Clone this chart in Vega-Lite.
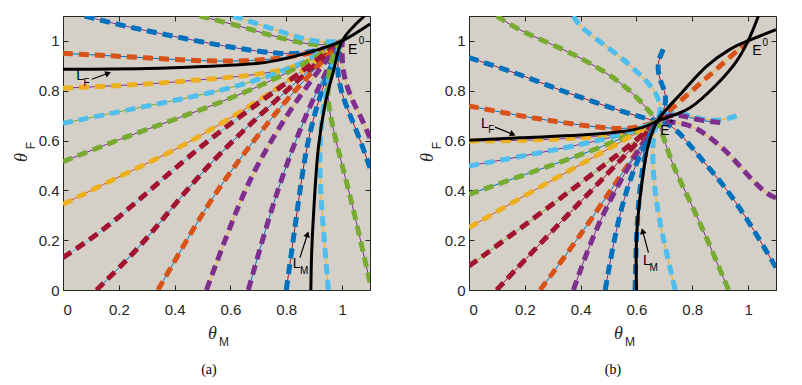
{
"$schema": "https://vega.github.io/schema/vega-lite/v6.json",
"padding": {"left": 12, "top": 15, "right": 5, "bottom": 5},
"bounds": "flush",
"spacing": 99,
"config": {
  "view": {"fill": "#d4d0c8", "stroke": "#262626", "strokeWidth": 1},
  "axis": {"labelFont": "Liberation Sans", "labelFontSize": 15, "labelColor": "#262626", "tickColor": "#262626", "grid": false, "title": null}
},
"datasets": {
  "traj": [
    {"p":"a","t":"a1","l":"purple","d":"blue","x":[0.078,0.17,0.3,0.54,0.7,0.82,0.92,1],"y":[1.1,1.073,1.04,0.986,0.957,0.945,0.96,1]},
    {"p":"a","t":"a2","l":"blue","d":"orange","x":[0,0.18,0.44,0.6,0.75,0.9,1],"y":[0.95,0.94,0.922,0.917,0.925,0.95,1]},
    {"p":"a","t":"a3","l":"purple","d":"yellow","x":[0,0.3,0.44,0.59,0.73,0.88,1],"y":[0.81,0.826,0.839,0.853,0.868,0.91,1]},
    {"p":"a","t":"a4","l":"green","d":"cyan","x":[0,0.3,0.6,0.85,1],"y":[0.669,0.739,0.805,0.9,1]},
    {"p":"a","t":"a5","l":"purple","d":"green","x":[0,0.2,0.42,0.65,0.85,1],"y":[0.515,0.605,0.692,0.79,0.895,1]},
    {"p":"a","t":"a6","l":"orange","d":"yellow","x":[0,0.23,0.42,0.6,0.8,1],"y":[0.344,0.471,0.571,0.69,0.83,1]},
    {"p":"a","t":"a7","l":"cyan","d":"red","x":[0,0.16,0.35,0.55,0.8,1],"y":[0.13,0.25,0.44,0.63,0.83,1]},
    {"p":"a","t":"a8","l":"blue","d":"red","x":[0.12,0.275,0.4,0.55,0.78,1],"y":[0,0.17,0.344,0.54,0.78,1]},
    {"p":"a","t":"a9","l":"blue","d":"orange","x":[0.34,0.4,0.49,0.59,0.8,1],"y":[0,0.116,0.29,0.464,0.77,1]},
    {"p":"a","t":"a10","l":"yellow","d":"purple","x":[0.514,0.61,0.69,0.85,1],"y":[0,0.29,0.5,0.79,1]},
    {"p":"a","t":"a11","l":"blue","d":"purple","x":[0.664,0.72,0.78,0.85,0.93,1],"y":[0,0.223,0.44,0.65,0.85,1]},
    {"p":"a","t":"a12","l":"red","d":"blue","x":[0.8,0.825,0.85,0.88,0.94,1],"y":[0,0.2,0.41,0.63,0.85,1]},
    {"p":"a","t":"a13","l":"yellow","d":"cyan","x":[0.951,0.927,0.918,0.925,0.96,1],"y":[0,0.317,0.5,0.7,0.9,1]},
    {"p":"a","t":"a14","l":"purple","d":"green","x":[1.1,1.04,1.0,0.967,0.945,0.955,1],"y":[0.03,0.33,0.5,0.65,0.77,0.93,1]},
    {"p":"a","t":"a15","l":"red","d":"blue","x":[1.1,1.058,1.011,0.975,1],"y":[0.49,0.625,0.745,0.88,1]},
    {"p":"a","t":"a16","l":"yellow","d":"purple","x":[1.1,1.07,1.034,1.0,1],"y":[0.61,0.69,0.765,0.87,1]},
    {"p":"a","t":"a18","l":"purple","d":"green","x":[0.49,0.634,0.78,0.92,1],"y":[1.1,1.06,1.01,0.975,1]},
    {"p":"a","t":"a19","l":"yellow","d":"cyan","x":[0.61,0.75,0.9,1],"y":[1.1,1.05,0.99,1]},
    {"p":"b","t":"b1","l":"purple","d":"green","x":[0.099,0.183,0.326,0.445,0.577,0.675],"y":[1.1,1.04,0.973,0.906,0.81,0.678]},
    {"p":"b","t":"b2","l":"yellow","d":"cyan","x":[0.374,0.398,0.517,0.601,0.67,0.69,0.675],"y":[1.1,1.053,0.96,0.879,0.8,0.73,0.678]},
    {"p":"b","t":"b3","l":"red","d":"blue","x":[0.696,0.672,0.684,0.709,0.7,0.675],"y":[0.966,0.906,0.839,0.785,0.72,0.678]},
    {"p":"b","t":"b4","l":"red","d":"blue","x":[0,0.183,0.302,0.422,0.541,0.637,0.675],"y":[0.933,0.866,0.812,0.765,0.719,0.687,0.678]},
    {"p":"b","t":"b4b","l":"red","d":"blue","x":[1.1,0.995,0.911,0.828,0.732,0.675],"y":[0.09,0.29,0.424,0.531,0.665,0.678]},
    {"p":"b","t":"b5","l":"blue","d":"orange","x":[0,0.183,0.302,0.422,0.541,0.62,0.675],"y":[0.739,0.699,0.678,0.658,0.645,0.655,0.678]},
    {"p":"b","t":"b6","l":"purple","d":"yellow","x":[0,0.2,0.4,0.55,0.63,0.675],"y":[0.598,0.6,0.61,0.625,0.65,0.678]},
    {"p":"b","t":"b7","l":"purple","d":"cyan","x":[0,0.23,0.47,0.6,0.675],"y":[0.498,0.545,0.6,0.64,0.678]},
    {"p":"b","t":"b8","l":"blue","d":"green","x":[0,0.23,0.47,0.62,0.675],"y":[0.384,0.475,0.57,0.645,0.678]},
    {"p":"b","t":"b9","l":"orange","d":"yellow","x":[0,0.2,0.41,0.6,0.675],"y":[0.25,0.38,0.51,0.63,0.678]},
    {"p":"b","t":"b10","l":"green","d":"red","x":[0,0.2,0.4,0.6,0.675],"y":[0.096,0.26,0.43,0.6,0.678]},
    {"p":"b","t":"b11","l":"red","d":"red","x":[0.099,0.3,0.5,0.675],"y":[0,0.24,0.47,0.678]},
    {"p":"b","t":"b12","l":"blue","d":"orange","x":[0.255,0.4,0.55,0.675],"y":[0,0.22,0.47,0.678]},
    {"p":"b","t":"b13","l":"purple","d":"purple","x":[0.374,0.45,0.56,0.675],"y":[0,0.24,0.48,0.678]},
    {"p":"b","t":"b14","l":"purple","d":"blue","x":[0.488,0.53,0.59,0.675],"y":[0,0.27,0.5,0.678]},
    {"p":"b","t":"b15","l":"blue","d":"blue","x":[0.595,0.6,0.615,0.64,0.675],"y":[0,0.25,0.45,0.6,0.678]},
    {"p":"b","t":"b16","l":"yellow","d":"cyan","x":[0.739,0.686,0.662,0.655,0.675],"y":[0,0.25,0.42,0.6,0.678]},
    {"p":"b","t":"b17","l":"purple","d":"green","x":[0.93,0.816,0.732,0.702,0.675],"y":[0,0.304,0.491,0.598,0.678]},
    {"p":"b","t":"b18","l":"yellow","d":"purple","x":[1.1,1.066,0.995,0.935,0.852,0.78,0.675],"y":[0.37,0.384,0.464,0.545,0.625,0.672,0.678]},
    {"p":"b","t":"b19","l":"yellow","d":"cyan","x":[0.959,0.899,0.828,0.78,0.72,0.675],"y":[0.699,0.678,0.685,0.705,0.72,0.678]},
    {"p":"b","t":"b21","l":"blue","d":"purple","x":[0.9,0.83,0.77,0.72,0.675],"y":[0.672,0.68,0.7,0.705,0.678]},
    {"p":"b","t":"b20","l":"yellow","d":"orange","x":[1,0.84,0.675],"y":[1,0.84,0.678]}
  ],
  "curves": [
    {"p":"a","c":"LF","x":[0,0.3,0.5,0.7,0.8,0.9,1,1.1],"y":[0.886,0.889,0.897,0.91,0.93,0.96,1,1.068]},
    {"p":"a","c":"LM","x":[0.888,0.891,0.897,0.915,0.939,0.969,1,1.08],"y":[0,0.15,0.29,0.571,0.745,0.879,1,1.1]},
    {"p":"b","c":"LF","x":[0,0.183,0.4,0.541,0.62,0.675,0.792,0.888,0.959,1,1.037],"y":[0.601,0.611,0.622,0.635,0.652,0.678,0.732,0.826,0.919,1,1.1]},
    {"p":"b","c":"LM","x":[0.6,0.601,0.619,0.643,0.675,0.768,0.852,0.935,1,1.1],"y":[0,0.224,0.424,0.585,0.678,0.799,0.899,0.966,1,1.045]}
  ],
  "arrows": [
    {"p":"a","a":"LF","x":[0.103,0.162],"y":[0.846,0.87]},
    {"p":"a","a":"LM","x":[0.849,0.876],"y":[0.13,0.224]},
    {"p":"b","a":"LF","x":[0.093,0.157],"y":[0.654,0.625]},
    {"p":"b","a":"LM","x":[0.643,0.622],"y":[0.15,0.237]}
  ],
  "notes": [
    {"p":"a","k":"lbl","txt":"L","x":0.061,"y":0.859},
    {"p":"a","k":"sub","txt":"F","x":0.084,"y":0.832},
    {"p":"a","k":"lbl","txt":"L","x":0.837,"y":0.103},
    {"p":"a","k":"sub","txt":"M","x":0.864,"y":0.075},
    {"p":"a","k":"lbl","txt":"E","x":1.038,"y":0.965},
    {"p":"a","k":"sub","txt":"0","x":1.07,"y":0.998},
    {"p":"b","k":"lbl","txt":"L","x":0.057,"y":0.665},
    {"p":"b","k":"sub","txt":"F","x":0.08,"y":0.643},
    {"p":"b","k":"lbl","txt":"L","x":0.637,"y":0.116},
    {"p":"b","k":"sub","txt":"M","x":0.662,"y":0.09},
    {"p":"b","k":"lbl","txt":"E","x":1.032,"y":0.958},
    {"p":"b","k":"sub","txt":"0","x":1.062,"y":0.99},
    {"p":"b","k":"lbl","txt":"E","x":0.702,"y":0.638},
    {"p":"b","k":"sub","txt":"*","x":0.725,"y":0.668},
    {"p":"a","k":"ax","txt":"θ","x":0.535,"y":-0.177},
    {"p":"a","k":"axs","txt":"M","x":0.577,"y":-0.207},
    {"p":"a","k":"yax","txt":"θ","x":-0.147,"y":0.532},
    {"p":"a","k":"yaxs","txt":"F","x":-0.115,"y":0.58},
    {"p":"a","k":"cap","txt":"(a)","x":0.523,"y":-0.321},
    {"p":"b","k":"ax","txt":"θ","x":0.535,"y":-0.177},
    {"p":"b","k":"axs","txt":"M","x":0.577,"y":-0.207},
    {"p":"b","k":"yax","txt":"θ","x":-0.147,"y":0.532},
    {"p":"b","k":"yaxs","txt":"F","x":-0.115,"y":0.58},
    {"p":"b","k":"cap","txt":"(b)","x":0.516,"y":-0.321}
  ]
},
"hconcat": [
{
  "width": 307, "height": 274,
  "resolve": {"axis": {"x": "independent", "y": "independent"}},
  "layer": [
    {"data": {"name": "traj"}, "transform": [{"filter": "datum.p==='a'"}, {"flatten": ["x", "y"]}],
     "mark": {"type": "line", "clip": true, "strokeWidth": 1, "interpolate": "basis"},
     "encoding": {
       "x": {"field": "x", "type": "quantitative", "scale": {"domain": [0, 1.1], "nice": false, "zero": false}, "axis": {"orient": "bottom", "values": [0, 0.2, 0.4, 0.6, 0.8, 1], "format": "~g", "tickSize": -5, "labelPadding": 17, "domain": false}},
       "y": {"field": "y", "type": "quantitative", "scale": {"domain": [0, 1.1], "nice": false, "zero": false}, "axis": {"orient": "left", "values": [0, 0.2, 0.4, 0.6, 0.8, 1], "format": "~g", "tickSize": -5, "labelPadding": 9, "domain": false}},
       "color": {"field": "l", "type": "nominal", "scale": {"domain": ["blue", "orange", "yellow", "purple", "green", "cyan", "red"], "range": ["#0072BD", "#D95319", "#EDB120", "#7E2F8E", "#77AC30", "#4DBEEE", "#A2142F"]}, "legend": null},
       "detail": {"field": "t"},
       "order": {"value": null}
     }},
    {"data": {"name": "traj"}, "transform": [{"filter": "datum.p==='a'"}, {"flatten": ["x", "y"]}],
     "mark": {"type": "line", "clip": true, "strokeWidth": 5, "strokeDash": [10, 6], "interpolate": "basis"},
     "encoding": {
       "x": {"field": "x", "type": "quantitative", "scale": {"domain": [0, 1.1], "nice": false, "zero": false}, "axis": {"orient": "top", "values": [0, 0.2, 0.4, 0.6, 0.8, 1], "labels": false, "tickSize": -5, "domain": false}},
       "y": {"field": "y", "type": "quantitative", "scale": {"domain": [0, 1.1], "nice": false, "zero": false}, "axis": {"orient": "right", "values": [0, 0.2, 0.4, 0.6, 0.8, 1], "labels": false, "tickSize": -5, "domain": false}},
       "color": {"field": "d", "type": "nominal", "scale": {"domain": ["blue", "orange", "yellow", "purple", "green", "cyan", "red"], "range": ["#0072BD", "#D95319", "#EDB120", "#7E2F8E", "#77AC30", "#4DBEEE", "#A2142F"]}, "legend": null},
       "detail": {"field": "t"},
       "order": {"value": null}
     }},
    {"data": {"name": "curves"}, "transform": [{"filter": "datum.p==='a'"}, {"flatten": ["x", "y"]}],
     "mark": {"type": "line", "clip": true, "strokeWidth": 3, "color": "black", "interpolate": "catmull-rom"},
     "encoding": {
       "x": {"field": "x", "type": "quantitative", "scale": {"domain": [0, 1.1], "nice": false, "zero": false}, "axis": null},
       "y": {"field": "y", "type": "quantitative", "scale": {"domain": [0, 1.1], "nice": false, "zero": false}, "axis": null},
       "detail": {"field": "c"},
       "order": {"value": null}
     }},
    {"data": {"name": "arrows"}, "transform": [{"filter": "datum.p==='a'"}, {"flatten": ["x", "y"]}],
     "mark": {"type": "line", "strokeWidth": 1.2, "color": "black"},
     "encoding": {
       "x": {"field": "x", "type": "quantitative", "scale": {"domain": [0, 1.1], "nice": false, "zero": false}, "axis": null},
       "y": {"field": "y", "type": "quantitative", "scale": {"domain": [0, 1.1], "nice": false, "zero": false}, "axis": null},
       "detail": {"field": "a"},
       "order": {"value": null}
     }},
    {"data": {"name": "arrows"}, "transform": [{"filter": "datum.p==='a'"}, {"calculate": "atan2(-(datum.y[1]-datum.y[0])*274/1.1, (datum.x[1]-datum.x[0])*307/1.1)*180/PI", "as": "ang"}, {"flatten": ["x", "y"]}, {"window": [{"op": "row_number", "as": "o"}], "groupby": ["a"]}, {"filter": "datum.o===2"}],
     "mark": {"type": "point", "shape": "triangle-right", "filled": true, "color": "black", "size": 45, "opacity": 1},
     "encoding": {
       "x": {"field": "x", "type": "quantitative", "scale": {"domain": [0, 1.1], "nice": false, "zero": false}, "axis": null},
       "y": {"field": "y", "type": "quantitative", "scale": {"domain": [0, 1.1], "nice": false, "zero": false}, "axis": null},
       "angle": {"field": "ang", "type": "quantitative", "scale": null}
     }},
    {"data": {"name": "notes"}, "transform": [{"filter": "datum.p==='a' && datum.k==='lbl'"}],
     "mark": {"type": "text", "font": "Liberation Sans", "fontSize": 14, "color": "black", "align": "center", "baseline": "middle"},
     "encoding": {
       "x": {"field": "x", "type": "quantitative", "scale": {"domain": [0, 1.1], "nice": false, "zero": false}, "axis": null},
       "y": {"field": "y", "type": "quantitative", "scale": {"domain": [0, 1.1], "nice": false, "zero": false}, "axis": null},
       "text": {"field": "txt"}
     }},
    {"data": {"name": "notes"}, "transform": [{"filter": "datum.p==='a' && datum.k==='sub'"}],
     "mark": {"type": "text", "font": "Liberation Sans", "fontSize": 10, "color": "black", "align": "center", "baseline": "middle"},
     "encoding": {
       "x": {"field": "x", "type": "quantitative", "scale": {"domain": [0, 1.1], "nice": false, "zero": false}, "axis": null},
       "y": {"field": "y", "type": "quantitative", "scale": {"domain": [0, 1.1], "nice": false, "zero": false}, "axis": null},
       "text": {"field": "txt"}
     }},
    {"data": {"name": "notes"}, "transform": [{"filter": "datum.p==='a' && datum.k==='ax'"}],
     "mark": {"type": "text", "font": "Liberation Serif", "fontStyle": "italic", "fontSize": 18, "color": "#262626", "align": "center", "baseline": "middle"},
     "encoding": {
       "x": {"field": "x", "type": "quantitative", "scale": {"domain": [0, 1.1], "nice": false, "zero": false}, "axis": null},
       "y": {"field": "y", "type": "quantitative", "scale": {"domain": [0, 1.1], "nice": false, "zero": false}, "axis": null},
       "text": {"field": "txt"}
     }},
    {"data": {"name": "notes"}, "transform": [{"filter": "datum.p==='a' && datum.k==='axs'"}],
     "mark": {"type": "text", "font": "Liberation Sans", "fontSize": 12, "color": "#262626", "align": "center", "baseline": "middle"},
     "encoding": {
       "x": {"field": "x", "type": "quantitative", "scale": {"domain": [0, 1.1], "nice": false, "zero": false}, "axis": null},
       "y": {"field": "y", "type": "quantitative", "scale": {"domain": [0, 1.1], "nice": false, "zero": false}, "axis": null},
       "text": {"field": "txt"}
     }},
    {"data": {"name": "notes"}, "transform": [{"filter": "datum.p==='a' && datum.k==='yax'"}],
     "mark": {"type": "text", "font": "Liberation Serif", "fontStyle": "italic", "fontSize": 18, "color": "#262626", "align": "center", "baseline": "middle", "angle": 270},
     "encoding": {
       "x": {"field": "x", "type": "quantitative", "scale": {"domain": [0, 1.1], "nice": false, "zero": false}, "axis": null},
       "y": {"field": "y", "type": "quantitative", "scale": {"domain": [0, 1.1], "nice": false, "zero": false}, "axis": null},
       "text": {"field": "txt"}
     }},
    {"data": {"name": "notes"}, "transform": [{"filter": "datum.p==='a' && datum.k==='yaxs'"}],
     "mark": {"type": "text", "font": "Liberation Sans", "fontSize": 12, "color": "#262626", "align": "center", "baseline": "middle", "angle": 270},
     "encoding": {
       "x": {"field": "x", "type": "quantitative", "scale": {"domain": [0, 1.1], "nice": false, "zero": false}, "axis": null},
       "y": {"field": "y", "type": "quantitative", "scale": {"domain": [0, 1.1], "nice": false, "zero": false}, "axis": null},
       "text": {"field": "txt"}
     }},
    {"data": {"name": "notes"}, "transform": [{"filter": "datum.p==='a' && datum.k==='cap'"}],
     "mark": {"type": "text", "font": "Liberation Serif", "fontSize": 14, "color": "black", "align": "center", "baseline": "middle"},
     "encoding": {
       "x": {"field": "x", "type": "quantitative", "scale": {"domain": [0, 1.1], "nice": false, "zero": false}, "axis": null},
       "y": {"field": "y", "type": "quantitative", "scale": {"domain": [0, 1.1], "nice": false, "zero": false}, "axis": null},
       "text": {"field": "txt"}
     }}
  ]
},
{
  "width": 307, "height": 274,
  "resolve": {"axis": {"x": "independent", "y": "independent"}},
  "layer": [
    {"data": {"name": "traj"}, "transform": [{"filter": "datum.p==='b'"}, {"flatten": ["x", "y"]}],
     "mark": {"type": "line", "clip": true, "strokeWidth": 1, "interpolate": "basis"},
     "encoding": {
       "x": {"field": "x", "type": "quantitative", "scale": {"domain": [0, 1.1], "nice": false, "zero": false}, "axis": {"orient": "bottom", "values": [0, 0.2, 0.4, 0.6, 0.8, 1], "format": "~g", "tickSize": -5, "labelPadding": 17, "domain": false}},
       "y": {"field": "y", "type": "quantitative", "scale": {"domain": [0, 1.1], "nice": false, "zero": false}, "axis": {"orient": "left", "values": [0, 0.2, 0.4, 0.6, 0.8, 1], "format": "~g", "tickSize": -5, "labelPadding": 9, "domain": false}},
       "color": {"field": "l", "type": "nominal", "scale": {"domain": ["blue", "orange", "yellow", "purple", "green", "cyan", "red"], "range": ["#0072BD", "#D95319", "#EDB120", "#7E2F8E", "#77AC30", "#4DBEEE", "#A2142F"]}, "legend": null},
       "detail": {"field": "t"},
       "order": {"value": null}
     }},
    {"data": {"name": "traj"}, "transform": [{"filter": "datum.p==='b'"}, {"flatten": ["x", "y"]}],
     "mark": {"type": "line", "clip": true, "strokeWidth": 5, "strokeDash": [10, 6], "interpolate": "basis"},
     "encoding": {
       "x": {"field": "x", "type": "quantitative", "scale": {"domain": [0, 1.1], "nice": false, "zero": false}, "axis": {"orient": "top", "values": [0, 0.2, 0.4, 0.6, 0.8, 1], "labels": false, "tickSize": -5, "domain": false}},
       "y": {"field": "y", "type": "quantitative", "scale": {"domain": [0, 1.1], "nice": false, "zero": false}, "axis": {"orient": "right", "values": [0, 0.2, 0.4, 0.6, 0.8, 1], "labels": false, "tickSize": -5, "domain": false}},
       "color": {"field": "d", "type": "nominal", "scale": {"domain": ["blue", "orange", "yellow", "purple", "green", "cyan", "red"], "range": ["#0072BD", "#D95319", "#EDB120", "#7E2F8E", "#77AC30", "#4DBEEE", "#A2142F"]}, "legend": null},
       "detail": {"field": "t"},
       "order": {"value": null}
     }},
    {"data": {"name": "curves"}, "transform": [{"filter": "datum.p==='b'"}, {"flatten": ["x", "y"]}],
     "mark": {"type": "line", "clip": true, "strokeWidth": 3, "color": "black", "interpolate": "catmull-rom"},
     "encoding": {
       "x": {"field": "x", "type": "quantitative", "scale": {"domain": [0, 1.1], "nice": false, "zero": false}, "axis": null},
       "y": {"field": "y", "type": "quantitative", "scale": {"domain": [0, 1.1], "nice": false, "zero": false}, "axis": null},
       "detail": {"field": "c"},
       "order": {"value": null}
     }},
    {"data": {"name": "arrows"}, "transform": [{"filter": "datum.p==='b'"}, {"flatten": ["x", "y"]}],
     "mark": {"type": "line", "strokeWidth": 1.2, "color": "black"},
     "encoding": {
       "x": {"field": "x", "type": "quantitative", "scale": {"domain": [0, 1.1], "nice": false, "zero": false}, "axis": null},
       "y": {"field": "y", "type": "quantitative", "scale": {"domain": [0, 1.1], "nice": false, "zero": false}, "axis": null},
       "detail": {"field": "a"},
       "order": {"value": null}
     }},
    {"data": {"name": "arrows"}, "transform": [{"filter": "datum.p==='b'"}, {"calculate": "atan2(-(datum.y[1]-datum.y[0])*274/1.1, (datum.x[1]-datum.x[0])*307/1.1)*180/PI", "as": "ang"}, {"flatten": ["x", "y"]}, {"window": [{"op": "row_number", "as": "o"}], "groupby": ["a"]}, {"filter": "datum.o===2"}],
     "mark": {"type": "point", "shape": "triangle-right", "filled": true, "color": "black", "size": 45, "opacity": 1},
     "encoding": {
       "x": {"field": "x", "type": "quantitative", "scale": {"domain": [0, 1.1], "nice": false, "zero": false}, "axis": null},
       "y": {"field": "y", "type": "quantitative", "scale": {"domain": [0, 1.1], "nice": false, "zero": false}, "axis": null},
       "angle": {"field": "ang", "type": "quantitative", "scale": null}
     }},
    {"data": {"name": "notes"}, "transform": [{"filter": "datum.p==='b' && datum.k==='lbl'"}],
     "mark": {"type": "text", "font": "Liberation Sans", "fontSize": 14, "color": "black", "align": "center", "baseline": "middle"},
     "encoding": {
       "x": {"field": "x", "type": "quantitative", "scale": {"domain": [0, 1.1], "nice": false, "zero": false}, "axis": null},
       "y": {"field": "y", "type": "quantitative", "scale": {"domain": [0, 1.1], "nice": false, "zero": false}, "axis": null},
       "text": {"field": "txt"}
     }},
    {"data": {"name": "notes"}, "transform": [{"filter": "datum.p==='b' && datum.k==='sub'"}],
     "mark": {"type": "text", "font": "Liberation Sans", "fontSize": 10, "color": "black", "align": "center", "baseline": "middle"},
     "encoding": {
       "x": {"field": "x", "type": "quantitative", "scale": {"domain": [0, 1.1], "nice": false, "zero": false}, "axis": null},
       "y": {"field": "y", "type": "quantitative", "scale": {"domain": [0, 1.1], "nice": false, "zero": false}, "axis": null},
       "text": {"field": "txt"}
     }},
    {"data": {"name": "notes"}, "transform": [{"filter": "datum.p==='b' && datum.k==='ax'"}],
     "mark": {"type": "text", "font": "Liberation Serif", "fontStyle": "italic", "fontSize": 18, "color": "#262626", "align": "center", "baseline": "middle"},
     "encoding": {
       "x": {"field": "x", "type": "quantitative", "scale": {"domain": [0, 1.1], "nice": false, "zero": false}, "axis": null},
       "y": {"field": "y", "type": "quantitative", "scale": {"domain": [0, 1.1], "nice": false, "zero": false}, "axis": null},
       "text": {"field": "txt"}
     }},
    {"data": {"name": "notes"}, "transform": [{"filter": "datum.p==='b' && datum.k==='axs'"}],
     "mark": {"type": "text", "font": "Liberation Sans", "fontSize": 12, "color": "#262626", "align": "center", "baseline": "middle"},
     "encoding": {
       "x": {"field": "x", "type": "quantitative", "scale": {"domain": [0, 1.1], "nice": false, "zero": false}, "axis": null},
       "y": {"field": "y", "type": "quantitative", "scale": {"domain": [0, 1.1], "nice": false, "zero": false}, "axis": null},
       "text": {"field": "txt"}
     }},
    {"data": {"name": "notes"}, "transform": [{"filter": "datum.p==='b' && datum.k==='yax'"}],
     "mark": {"type": "text", "font": "Liberation Serif", "fontStyle": "italic", "fontSize": 18, "color": "#262626", "align": "center", "baseline": "middle", "angle": 270},
     "encoding": {
       "x": {"field": "x", "type": "quantitative", "scale": {"domain": [0, 1.1], "nice": false, "zero": false}, "axis": null},
       "y": {"field": "y", "type": "quantitative", "scale": {"domain": [0, 1.1], "nice": false, "zero": false}, "axis": null},
       "text": {"field": "txt"}
     }},
    {"data": {"name": "notes"}, "transform": [{"filter": "datum.p==='b' && datum.k==='yaxs'"}],
     "mark": {"type": "text", "font": "Liberation Sans", "fontSize": 12, "color": "#262626", "align": "center", "baseline": "middle", "angle": 270},
     "encoding": {
       "x": {"field": "x", "type": "quantitative", "scale": {"domain": [0, 1.1], "nice": false, "zero": false}, "axis": null},
       "y": {"field": "y", "type": "quantitative", "scale": {"domain": [0, 1.1], "nice": false, "zero": false}, "axis": null},
       "text": {"field": "txt"}
     }},
    {"data": {"name": "notes"}, "transform": [{"filter": "datum.p==='b' && datum.k==='cap'"}],
     "mark": {"type": "text", "font": "Liberation Serif", "fontSize": 14, "color": "black", "align": "center", "baseline": "middle"},
     "encoding": {
       "x": {"field": "x", "type": "quantitative", "scale": {"domain": [0, 1.1], "nice": false, "zero": false}, "axis": null},
       "y": {"field": "y", "type": "quantitative", "scale": {"domain": [0, 1.1], "nice": false, "zero": false}, "axis": null},
       "text": {"field": "txt"}
     }}
  ]
}
]
}
